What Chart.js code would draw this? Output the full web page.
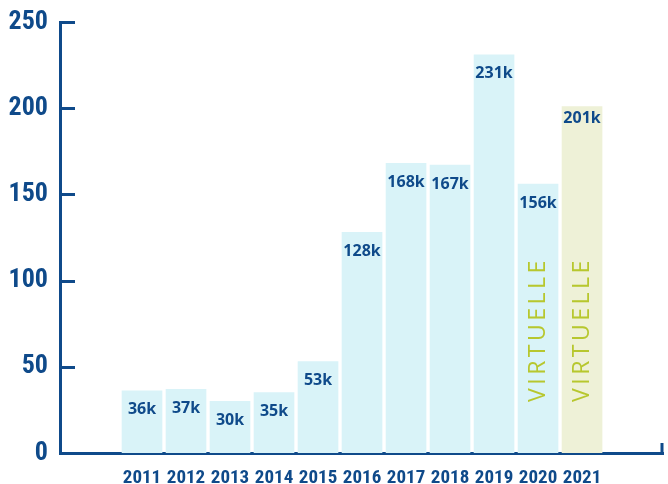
<!DOCTYPE html>
<html>
<head>
<meta charset="utf-8">
<script src="https://cdn.jsdelivr.net/npm/chart.js@4.4.1/dist/chart.umd.min.js"></script>
<style>
  html, body { margin: 0; padding: 0; background: #fff; }
  #wrap { width: 668px; height: 484px; }
</style>
</head>
<body>
<div id="wrap"><canvas id="myChart"></canvas></div>
<script>
// visiteurs par année (en milliers)
const years = [2011, 2012, 2013, 2014, 2015, 2016, 2017, 2018, 2019, 2020, 2021];
const visitors = [36, 37, 30, 35, 53, 128, 168, 167, 231, 156, 201];
const valueLabels = ['36k', '37k', '30k', '35k', '53k', '128k', '168k', '167k', '231k', '156k', '201k'];
const virtualYears = [2020, 2021];
const highlightYear = 2021;
const yTicks = [0, 50, 100, 150, 200, 250];

const BLUE = '#0f4a8a';
const CYAN = '#d9f3f8';
const OLIVE = '#eef1d7';
const GREEN = '#b7c72e';
const narrow = "'Roboto Condensed', sans-serif";

const barDeco = {
  id: 'barDeco',
  afterDatasetsDraw(chart) {
    const ctx = chart.ctx;
    const meta = chart.getDatasetMeta(0);
    ctx.save();
    meta.data.forEach((bar, i) => {
      // valeur en haut de la barre
      ctx.fillStyle = BLUE;
      ctx.font = "bold 16px 'Open Sans', sans-serif";
      ctx.textAlign = 'center';
      ctx.textBaseline = 'middle';
      const dy = years[i] === highlightYear ? 12 : 19;
      ctx.fillText(valueLabels[i], bar.x, bar.y + dy);

      if (virtualYears.includes(years[i])) {
        ctx.save();
        ctx.translate(bar.x, bar.base - 51);
        ctx.rotate(-Math.PI / 2);
        ctx.fillStyle = GREEN;
        ctx.font = "23px 'Open Sans', sans-serif";
        ctx.letterSpacing = '3.5px';
        ctx.textAlign = 'left';
        ctx.textBaseline = 'middle';
        ctx.fillText('VIRTUELLE', 0, 0);
        ctx.restore();
      }
    });
    ctx.restore();
  },
  afterDraw(chart) {
    const ctx = chart.ctx;
    const area = chart.chartArea;
    const y = chart.scales.y;
    ctx.save();
    ctx.strokeStyle = BLUE;
    ctx.lineWidth = 3;
    ctx.beginPath();
    yTicks.forEach(v => {
      const py = Math.round(y.getPixelForValue(v)) + 0.5;
      ctx.moveTo(area.left, py);
      ctx.lineTo(area.left + 15, py);
    });
    // petit trait en bout d'axe x
    ctx.moveTo(area.right - 1, area.bottom);
    ctx.lineTo(area.right - 1, area.bottom - 10);
    ctx.stroke();
    ctx.restore();
  }
};

const context = document.getElementById('myChart').getContext('2d');
const myChart = new Chart(context, {
  type: 'bar',
  data: {
    datasets: [{
      data: years.map((yr, i) => ({ x: yr, y: visitors[i] })),
      backgroundColor: years.map(yr => yr === highlightYear ? OLIVE : CYAN),
      borderWidth: 0,
      barThickness: 40
    }]
  },
  options: {
    responsive: true,
    maintainAspectRatio: false,
    animation: false,
    layout: { padding: { top: 22, right: 5, left: 0, bottom: 0 } },
    plugins: { legend: { display: false }, tooltip: { enabled: false } },
    scales: {
      x: {
        type: 'linear',
        offset: false,
        min: 2009.136,
        max: 2022.84,
        afterBuildTicks: (scale) => { scale.ticks = years.map(v => ({ value: v })); },
        afterFit: (scale) => { scale.height = 31; },
        grid: { display: false, drawTicks: false },
        border: { display: true, color: BLUE, width: 3 },
        ticks: {
          autoSkip: false,
          maxRotation: 0,
          padding: 14,
          color: BLUE,
          font: { family: narrow, size: 19, weight: 'bold' },
          callback: (v) => String(v)
        }
      },
      y: {
        min: 0,
        max: 250,
        afterBuildTicks: (scale) => { scale.ticks = yTicks.map(v => ({ value: v })); },
        afterFit: (scale) => { scale.width = 60; scale.paddingTop = 0; scale.paddingBottom = 0; },
        grid: { display: false, drawTicks: false },
        border: { display: true, color: BLUE, width: 3 },
        ticks: {
          padding: 12,
          color: BLUE,
          font: { family: narrow, size: 26, weight: 'bold', lineHeight: 1 }
        }
      }
    }
  },
  plugins: [barDeco]
});
</script>
</body>
</html>
